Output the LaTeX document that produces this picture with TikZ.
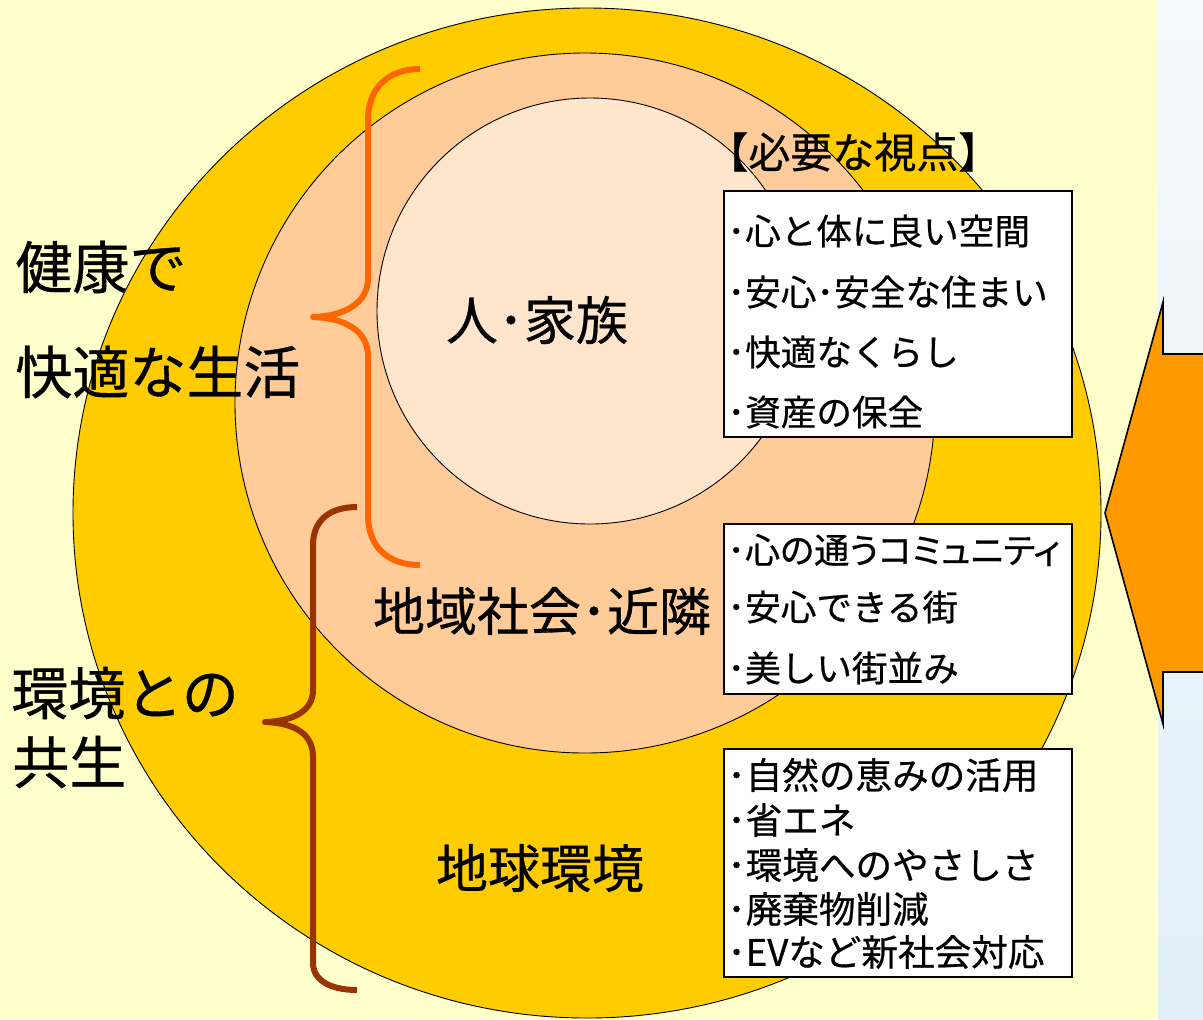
\documentclass[tikz,border=0pt]{standalone}
\usepackage{fontspec}
\newfontfamily\jp[FakeBold=0.6]{Noto Sans CJK JP}
\newfontfamily\jpp[RawFeature=+palt,FakeBold=0.6]{Noto Sans CJK JP}
\definecolor{bgyellow}{HTML}{FFFFCC}
\definecolor{gold}{HTML}{FFCC00}
\definecolor{peach}{HTML}{FFCC99}
\definecolor{cream}{HTML}{FFE5CC}
\definecolor{braceorange}{HTML}{FF6600}
\definecolor{bracebrown}{HTML}{993300}
\definecolor{arroworange}{HTML}{FF9900}
\definecolor{stripetop}{HTML}{F5FAFD}
\definecolor{stripebot}{HTML}{E2EEF8}
\tikzset{
  ring/.style={draw=black, line width=0.45pt},
  bracestyle/.style={line width=3pt, line cap=butt, line join=round},
  listbox/.style={draw=black, fill=white, line width=0.8pt, inner sep=0pt, anchor=north west},
  listitem/.style={anchor=west, inner sep=0pt, font=\jp\fontsize{17.8pt}{21pt}\selectfont},
  listitemc/.style={anchor=west, inner sep=0pt, font=\jp\fontsize{18.3pt}{21pt}\selectfont},
  listitemp/.style={anchor=west, inner sep=0pt, font=\jpp\fontsize{17.6pt}{21pt}\selectfont},
  header/.style={anchor=west, inner sep=0pt, font=\jp\fontsize{21pt}{24pt}\selectfont},
  biglabel/.style={anchor=center, inner sep=0pt, font=\jp\fontsize{26pt}{30pt}\selectfont},
  sidelabel/.style={anchor=west, inner sep=0pt, font=\jp\fontsize{28.5pt}{32pt}\selectfont},
  arrowshape/.style={draw=black, fill=arroworange, line width=0.8pt, line join=miter}
}
\begin{document}
\begin{tikzpicture}[x=0.5pt,y=-0.5pt]
\useasboundingbox (0,0) rectangle (1203,1019);
\begin{scope}
\clip (0,0) rectangle (1203,1019);
% background
\fill[bgyellow] (0,0) rectangle (1203,1019);
\shade[top color=stripetop, bottom color=stripebot] (1158,0) rectangle (1203,1019);
% circles
\filldraw[ring, fill=gold] (587,513) ellipse [x radius=514, y radius=505];
\filldraw[ring, fill=peach] (585,403) circle [radius=350];
\filldraw[ring, fill=cream] (590,311) circle [radius=213];
% braces
\draw[bracestyle, draw=braceorange] (420,69) .. controls (388,69) and (368,88) .. (368,120)
  -- (368,278) .. controls (368,303) and (345,316) .. (313,317)
  .. controls (345,318) and (368,331) .. (368,356)
  -- (368,515) .. controls (368,547) and (388,565) .. (420,565);
\draw[bracestyle, draw=bracebrown] (357,507) .. controls (330,507) and (313,520) .. (313,545)
  -- (313,690) .. controls (313,710) and (295,721) .. (265,722)
  .. controls (295,723) and (313,734) .. (313,757)
  -- (313,963) .. controls (313,980) and (330,990) .. (357,990);
% arrow
\filldraw[arrowshape] (1105,513) -- (1163,302) -- (1163,354) -- (1220,354)
  -- (1220,672) -- (1163,672) -- (1163,724) -- cycle;
\end{scope}
% side labels
\node[sidelabel] (kenko) at (15,267) {健康で};
\node[sidelabel] (kaiteki) at (15,372) {快適な生活};
\node[sidelabel] (kankyo) at (11,693) {環境との};
\node[sidelabel] (kyosei) at (12,762) {共生};
% circle labels
\node[biglabel] (hito) at (537,320) {人･家族};
\node[biglabel] (chiiki) at (542,611) {地域社会･近隣};
\node[biglabel] (chikyu) at (540,868) {地球環境};
% header
\node[header] (shiten) at (706,152) {【必要な視点】};
% boxes
\node[listbox, minimum width=174pt, minimum height=123pt] (box1) at (723,190) {};
\node[listbox, minimum width=174pt, minimum height=85pt] (box2) at (723,523) {};
\node[listbox, minimum width=174pt, minimum height=114pt] (box3) at (723,748) {};
% box 1 items
\node[listitem] (a1) at (727,231) {･心と体に良い空間};
\node[listitem] (a2) at (727,292) {･安心･安全な住まい};
\node[listitem] (a3) at (727,352) {･快適なくらし};
\node[listitem] (a4) at (727,412) {･資産の保全};
% box 2 items
\node[listitemp] (b1) at (727,550) {･心の通うコミュニティ};
\node[listitem] (b2) at (727,607) {･安心できる街};
\node[listitem] (b3) at (727,668) {･美しい街並み};
% box 3 items
\node[listitemc] (c1) at (727,775) {･自然の恵みの活用};
\node[listitemc] (c2) at (727,820) {･省エネ};
\node[listitemc] (c3) at (727,865) {･環境へのやさしさ};
\node[listitemc] (c4) at (727,909) {･廃棄物削減};
\node[listitemc] (c5) at (727,952) {･EVなど新社会対応};
\end{tikzpicture}
\end{document}
